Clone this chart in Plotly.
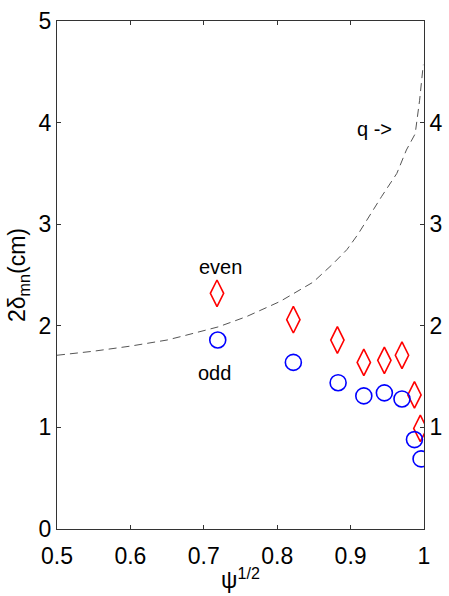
import plotly.graph_objects as go

# psi^(1/2) positions of the measured modes
psi_even = [0.718, 0.822, 0.882, 0.918, 0.946, 0.970, 0.987, 0.995]
delta_even = [2.32, 2.06, 1.86, 1.64, 1.66, 1.71, 1.32, 0.99]

psi_odd = [0.719, 0.822, 0.883, 0.918, 0.946, 0.970, 0.987, 0.996]
delta_odd = [1.86, 1.64, 1.44, 1.31, 1.34, 1.28, 0.88, 0.69]

# safety-factor profile q (read on the right-hand axis)
psi_q = [0.50, 0.55, 0.60, 0.65, 0.672, 0.72, 0.758, 0.804, 0.849, 0.876,
         0.895, 0.910, 0.942, 0.963, 0.976, 0.988, 0.994, 0.999]
q_vals = [1.71, 1.75, 1.80, 1.86, 1.90, 1.99, 2.09, 2.24, 2.43, 2.61,
          2.75, 2.90, 3.27, 3.50, 3.73, 3.89, 4.22, 4.57]

x_ticks = [0.5, 0.6, 0.7, 0.8, 0.9, 1.0]
x_tick_text = ["0.5", "0.6", "0.7", "0.8", "0.9", "1"]
y_ticks = [0, 1, 2, 3, 4, 5]
q_ticks = [1, 2, 3, 4]

FONT = "Liberation Sans, Arial, sans-serif"

fig = go.Figure()

fig.add_trace(go.Scatter(
    x=psi_q, y=q_vals, mode="lines",
    line=dict(color="#555555", width=1, dash="8px,5px"),
    yaxis="y2", showlegend=False, hoverinfo="skip",
))
fig.add_trace(go.Scatter(
    x=psi_even, y=delta_even, mode="markers", name="even",
    marker=dict(symbol="diamond-tall-open", size=19, color="#ff0000",
                line=dict(width=1.6, color="#ff0000")),
    showlegend=False,
))
fig.add_trace(go.Scatter(
    x=psi_odd, y=delta_odd, mode="markers", name="odd",
    marker=dict(symbol="circle-open", size=16, color="#0000ff",
                line=dict(width=1.6, color="#0000ff")),
    showlegend=False,
))

fig.add_annotation(x=0.723, y=2.58, text="even", showarrow=False,
                   font=dict(family=FONT, size=20, color="black"))
fig.add_annotation(x=0.715, y=1.54, text="odd", showarrow=False,
                   font=dict(family=FONT, size=20, color="black"))
fig.add_annotation(x=0.933, y=3.94, text="q ->", showarrow=False,
                   font=dict(family=FONT, size=20, color="black"))

fig.update_layout(
    width=449, height=596,
    margin=dict(l=57, r=25, t=21, b=67),
    paper_bgcolor="white", plot_bgcolor="white",
    font=dict(family=FONT, size=23, color="black"),
    xaxis=dict(
        range=[0.5, 1.0], tickvals=x_ticks, ticktext=x_tick_text,
        ticks="inside", ticklen=4, tickcolor="#333333",
        showline=True, linecolor="#333333", linewidth=1, mirror="ticks",
        showgrid=False, zeroline=False, automargin=False,
        ticklabelstandoff=6,
        title=dict(text="\u03c8<sup>1/2</sup>", standoff=4,
                   font=dict(family=FONT, size=23)),
    ),
    yaxis=dict(
        range=[0, 5], tickvals=y_ticks,
        ticks="inside", ticklen=4, tickcolor="#333333",
        showline=True, linecolor="#333333", linewidth=1,
        showgrid=False, zeroline=False, automargin=False,
        title=dict(text="2\u03b4<sub>mn</sub>(cm)", standoff=6,
                   font=dict(family=FONT, size=23)),
    ),
    yaxis2=dict(
        range=[0, 5], tickvals=q_ticks, overlaying="y", side="right",
        ticks="inside", ticklen=4, tickcolor="#333333",
        showline=True, linecolor="#333333", linewidth=1,
        showgrid=False, zeroline=False, automargin=False,
    ),
)

fig.write_html("out.html")
